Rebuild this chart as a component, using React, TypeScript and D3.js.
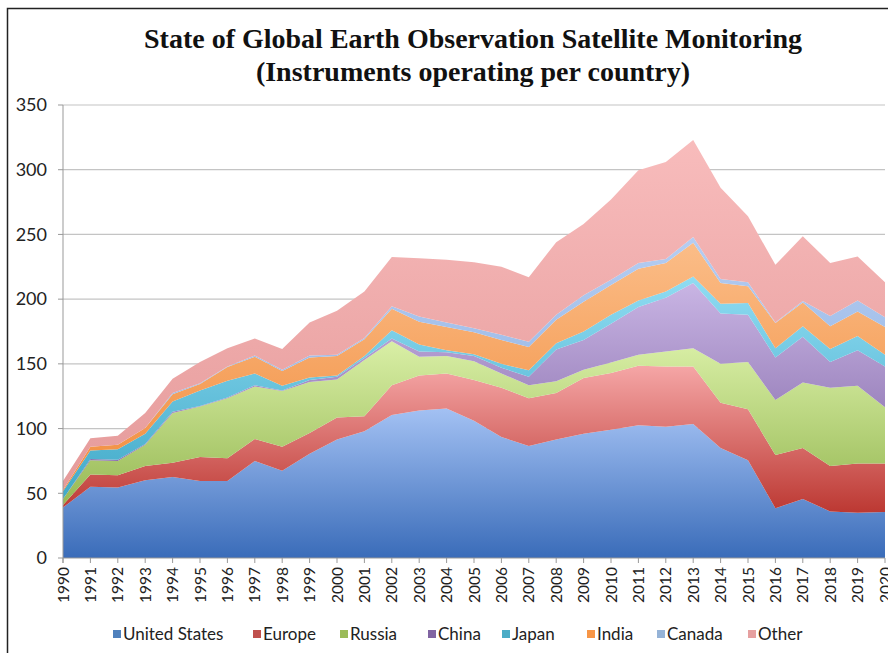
import { scaleLinear, scalePoint, stack, area as d3area, curveLinear } from "d3";

// Instruments operating per country
const years = [
  "1990", "1991", "1992", "1993", "1994", "1995", "1996", "1997", "1998", "1999",
  "2000", "2001", "2002", "2003", "2004", "2005", "2006", "2007", "2008", "2009",
  "2010", "2011", "2012", "2013", "2014", "2015", "2016", "2017", "2018", "2019", "2020",
];
const unitedStates = [39, 55, 54.5, 60, 62.5, 59.5, 59.5, 75, 67.5, 80.5, 91.5, 98, 110.5, 114, 115.5, 106, 93.5, 86.5, 91.5, 96, 99, 102.5, 101.5, 103.5, 85, 75.5, 38.5, 45.5, 36, 35, 35.5];
const europe = [2, 9.5, 9.5, 11, 11, 18.5, 17.5, 17, 18.5, 16, 17, 11.5, 23, 27, 27, 31.5, 38, 37, 36, 43, 44, 46, 46.5, 44.5, 35, 39.5, 41, 39.5, 35, 38, 37.5];
const russia = [4.5, 11, 11, 16.5, 38.5, 39, 46.5, 40.5, 43, 39.5, 29.5, 43.5, 34, 14.5, 13.5, 14.5, 11, 10, 9, 6.5, 8, 8.5, 11.5, 14, 30, 36.5, 42.5, 50.5, 60.5, 60, 43.5];
const china = [0, 1, 1, 0.5, 1, 0.5, 0.5, 1, 0.5, 1.5, 2, 1.5, 2, 4, 3, 4, 4.5, 6.5, 24.5, 23, 30, 37, 41.5, 50.5, 39, 36.5, 33, 35.5, 20, 27.5, 31.5];
const japan = [6, 6.5, 8, 8, 8, 12, 13, 9, 3.5, 2, 1, 1.5, 6.5, 5.5, 1.5, 1.5, 3, 5, 5, 6.5, 7, 5, 5, 5, 7.5, 9, 7, 8, 10, 11, 9];
const india = [1, 3, 3.5, 4.5, 5.5, 5, 10.5, 13, 11.5, 15.5, 15, 13, 16.5, 17.5, 18, 17, 18.5, 18, 18, 23, 23, 24.5, 22, 26, 16, 13, 19.5, 18.5, 17.5, 19, 21.5];
const canada = [0, 0, 0, 0, 1, 0.5, 0.5, 1, 1, 1.5, 1, 1, 2, 4, 3.5, 3, 4, 4, 4, 5, 4, 4.5, 3, 4.5, 3, 3, 0.5, 1, 8, 8.5, 7.5];
const other = [7, 6.5, 7, 11.5, 11, 16.5, 14, 13, 16, 25.5, 34, 36, 38, 45, 48.5, 51, 52.5, 50, 56, 55, 62, 71.5, 75, 75, 70.5, 51, 44.5, 50, 41, 34, 27];

const seriesNames = ["United States", "Europe", "Russia", "China", "Japan", "India", "Canada", "Other"];
const yTicks = [0, 50, 100, 150, 200, 250, 300, 350];

// gradient top / bottom colours per series (Excel 2007 look)
const gradients = [
  ["#a3c1f3", "#3a6cb9"],
  ["#f5a6a6", "#bc3832"],
  ["#d9efa6", "#97b954"],
  ["#c9b5e4", "#7d62a3"],
  ["#90dcf2", "#40a9c8"],
  ["#fbbd88", "#f18c3c"],
  ["#b5cdf2", "#8badde"],
  ["#f8bcbc", "#e59a9a"],
];
const legendColors = ["#4f81bd", "#c0504d", "#9bbb59", "#8064a2", "#4bacc6", "#f79646", "#95b3d7", "#e6a0a0"];

const W = 888;
const H = 653;
const plot = { left: 63, right: 885, top: 105, bottom: 558 };

export default function App() {
  const columns = [unitedStates, europe, russia, china, japan, india, canada, other];
  const rows = years.map((y, i) => {
    const r: Record<string, number | string> = { year: y };
    seriesNames.forEach((n, k) => (r[n] = columns[k][i]));
    return r;
  });

  const x = scalePoint<string>().domain(years).range([plot.left, plot.right]);
  const y = scaleLinear().domain([0, 350]).range([plot.bottom, plot.top]);

  const stacked = stack<Record<string, number | string>>().keys(seriesNames)(rows);

  const area = d3area<any>()
    .x((d) => x(d.data.year as string) ?? 0)
    .y0((d) => y(d[0]))
    .y1((d) => y(d[1]))
    .curve(curveLinear);

  const legendX = [113, 253, 340, 428, 502, 587, 657, 748];

  return (
    <svg
      width={W}
      height={H}
      style={{ position: "absolute", left: 0, top: 0, background: "#fff" }}
    >
      <defs>
        {gradients.map(([a, b], i) => (
          <linearGradient key={i} id={`g${i}`} x1="0" y1="0" x2="0" y2="1">
            <stop offset="0%" stopColor={a} />
            <stop offset="100%" stopColor={b} />
          </linearGradient>
        ))}
      </defs>

      {/* chart frame, cut off at the right and bottom */}
      <rect x={7.5} y={8.5} width={W + 20} height={H + 20} fill="#fff" stroke="#222" strokeWidth={1.5} />

      <text
        x={473}
        y={48}
        textAnchor="middle"
        fontFamily="'Liberation Serif', 'Times New Roman', serif"
        fontWeight="bold"
        fontSize={28}
        fill="#111"
      >
        State of Global Earth Observation Satellite Monitoring
      </text>
      <text
        x={473}
        y={81}
        textAnchor="middle"
        fontFamily="'Liberation Serif', 'Times New Roman', serif"
        fontWeight="bold"
        fontSize={28}
        fill="#111"
      >
        (Instruments operating per country)
      </text>

      {/* grid */}
      {yTicks.map((t) => (
        <g key={t}>
          {t > 0 && (
            <line x1={plot.left} x2={plot.right} y1={y(t)} y2={y(t)} stroke="#c4c4c4" strokeWidth={1.2} />
          )}
          <line x1={plot.left - 5} x2={plot.left} y1={y(t)} y2={y(t)} stroke="#999" />
          <text
            x={47}
            y={y(t)}
            dy="0.35em"
            textAnchor="end"
            fontFamily="Lato, 'Open Sans', sans-serif"
            fontSize={18}
            fill="#222"
          >
            {t}
          </text>
        </g>
      ))}

      {/* stacked areas */}
      {stacked.map((s, i) => (
        <path key={s.key} d={area(s) ?? undefined} fill={`url(#g${i})`} />
      ))}

      <line x1={plot.left} x2={plot.left} y1={plot.top} y2={plot.bottom + 5} stroke="#999" />
      <line x1={plot.left} x2={plot.right} y1={plot.bottom} y2={plot.bottom} stroke="#999" />

      {/* x axis */}
      {years.map((yr) => {
        const px = x(yr) ?? 0;
        return (
          <g key={yr}>
            <line x1={px} x2={px} y1={plot.bottom} y2={plot.bottom + 5} stroke="#999" />
            <text
              transform={`translate(${px},${plot.bottom + 9}) rotate(-90)`}
              dy="0.36em"
              textAnchor="end"
              fontFamily="Lato, 'Open Sans', sans-serif"
              fontSize={15.5}
              fill="#222"
            >
              {yr}
            </text>
          </g>
        );
      })}

      {/* legend */}
      {seriesNames.map((n, i) => (
        <g key={n}>
          <rect x={legendX[i]} y={630} width={8} height={8} fill={legendColors[i]} />
          <text
            x={legendX[i] + 10}
            y={634}
            dy="0.36em"
            fontFamily="Lato, 'Open Sans', sans-serif"
            fontSize={17}
            fill="#222"
          >
            {n}
          </text>
        </g>
      ))}
    </svg>
  );
}
